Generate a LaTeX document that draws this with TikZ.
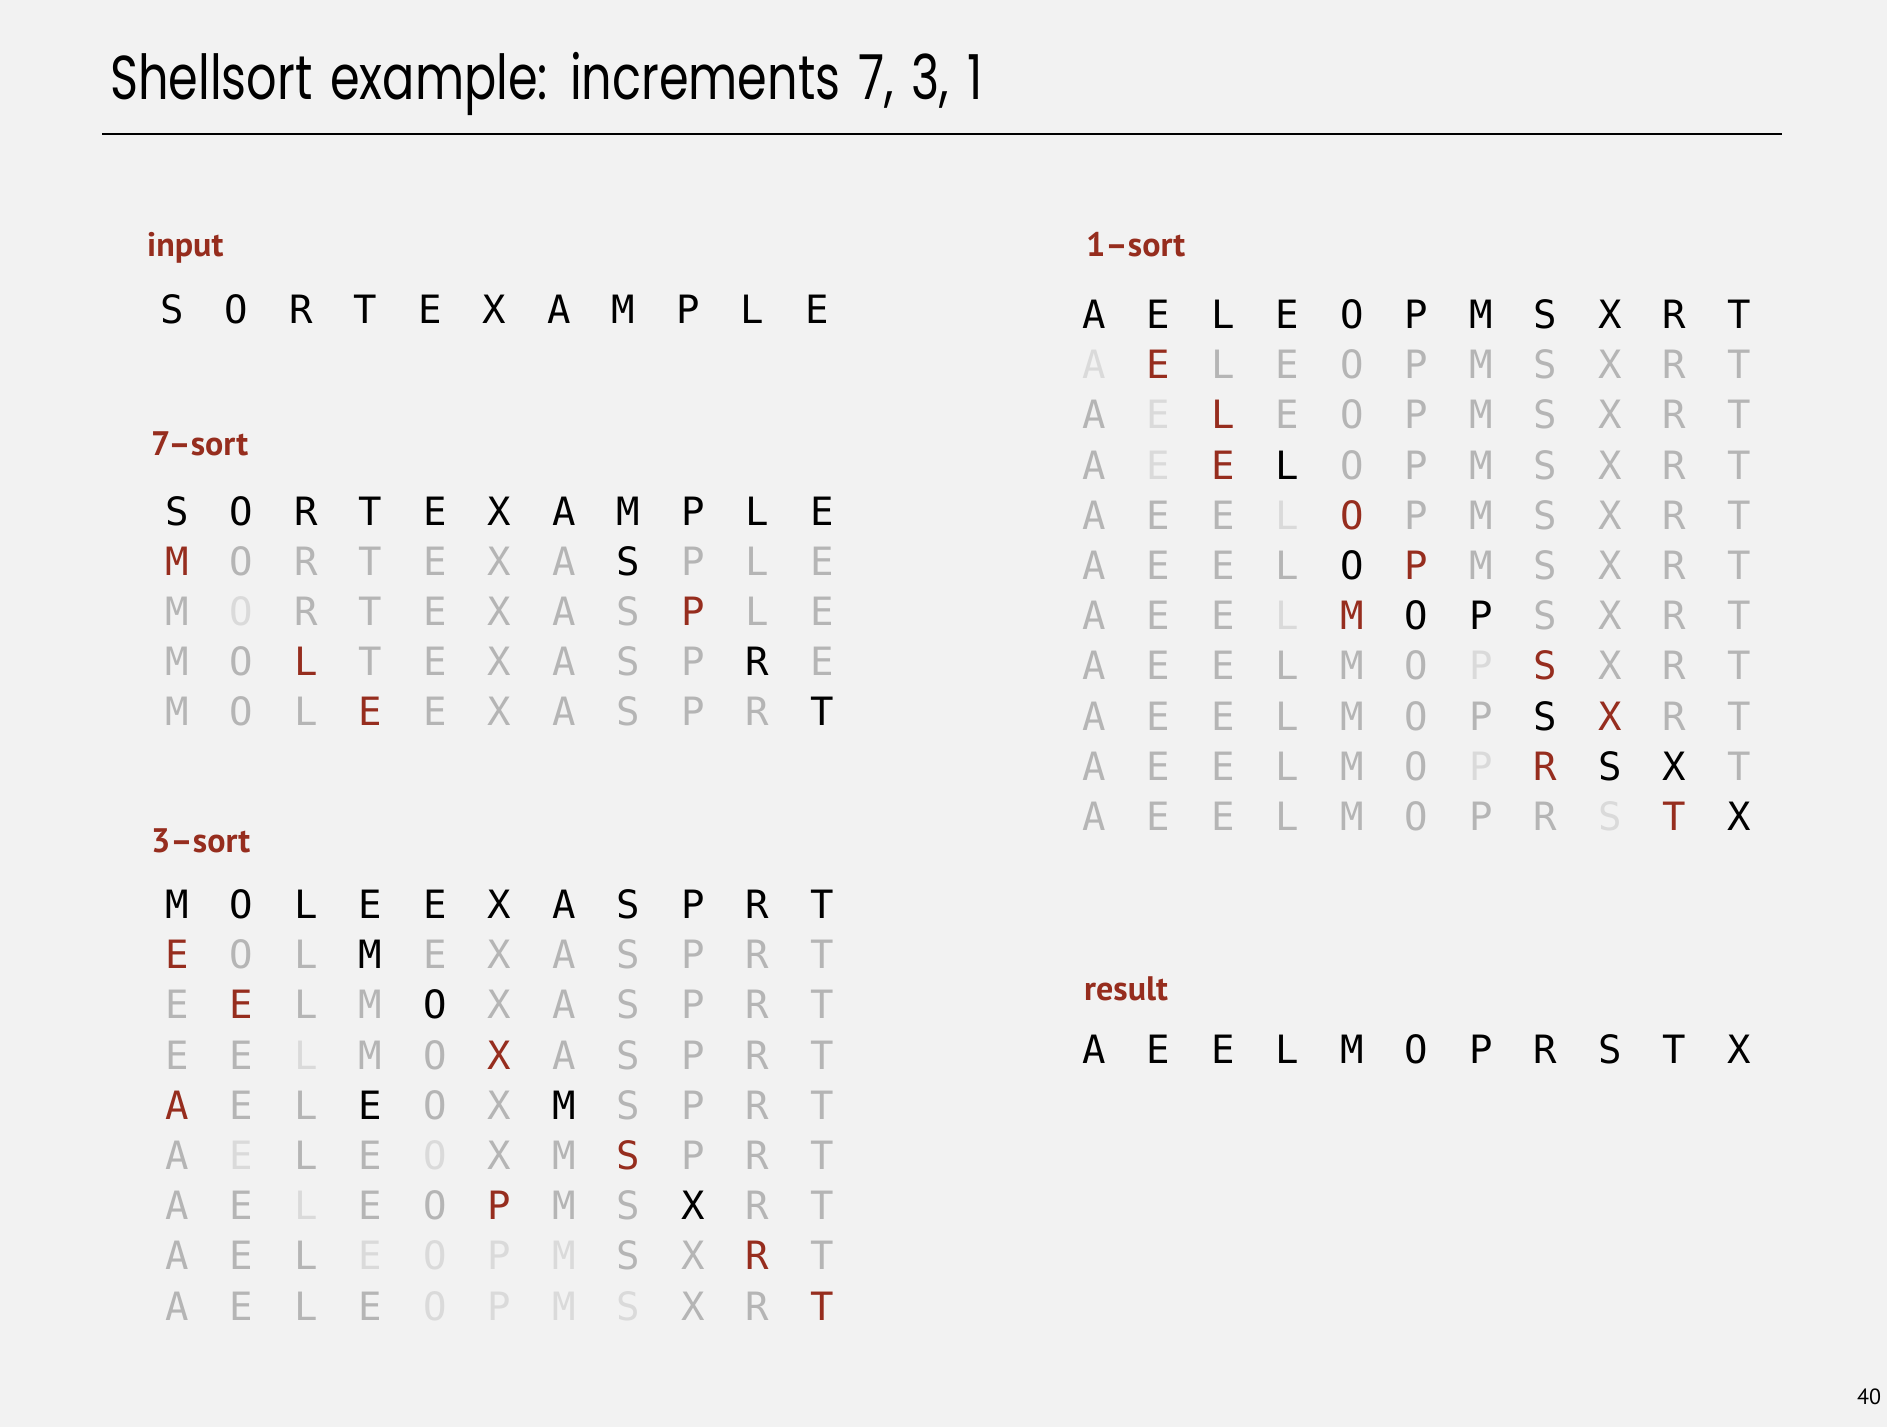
\documentclass[tikz,border=0pt]{standalone}
\usepackage{fontspec}
\usepackage{xcolor}
\usepackage{tikz}

\newfontfamily\titlefont[FakeStretch=0.77, WordSpace=1.4]{Poppins}
\newfontfamily\headfont{PT Sans}
\newfontfamily\keyfont{DejaVu Sans Mono}

\definecolor{slidebg}{HTML}{F2F2F2}
\definecolor{headred}{HTML}{962D1E}
\definecolor{keygray}{HTML}{B5B5B5}
\definecolor{keyfaint}{HTML}{DADADA}

\tikzset{
  key/.style={font=\keyfont\fontsize{39}{39}\selectfont, inner sep=0pt},
  bk/.style={key, text=black},
  rd/.style={key, text=headred},
  gy/.style={key, text=keygray},
  lg/.style={key, text=keyfaint},
  head/.style={font=\headfont\bfseries\fontsize{34}{34}\selectfont, text=headred,
    anchor=base west, inner sep=0pt},
}

% one row of keys: name, left x, y, list of style/letter
\newcommand\keyrow[4]{%
  \foreach \c/\l [count=\i] in {#4}
    \node[\c] (#1-\i) at ({#2+(\i-1)*64.5}, #3) {\l};
}

\begin{document}
\begin{tikzpicture}[x=1pt, y=-1pt]
    % Slide background
    \fill[slidebg] (0,0) rectangle (1887,1427);
    \useasboundingbox (0,0) rectangle (1887,1427);

    % Title and rule
    \node[font=\titlefont\fontsize{62}{62}\selectfont, anchor=base west, inner sep=0pt]
      (title) at (110,99) {Shellsort example: increments 7, 3, 1};
    \coordinate (ruleL) at (102,134);
    \coordinate (ruleR) at (1782,134);
    \draw[line width=2pt] (ruleL) -- (ruleR);

    % Input
    \node[head] (inlab) at (147,256) {input};
    \keyrow{in}{172}{309}{bk/S,bk/O,bk/R,bk/T,bk/E,bk/X,bk/A,bk/M,bk/P,bk/L,bk/E}

    % 7-sort
    \node[head] (sevlab) at (151,455) {7\textendash sort};
    \keyrow{sa}{177}{511}{bk/S,bk/O,bk/R,bk/T,bk/E,bk/X,bk/A,bk/M,bk/P,bk/L,bk/E}
    \keyrow{sb}{177}{561}{rd/M,gy/O,gy/R,gy/T,gy/E,gy/X,gy/A,bk/S,gy/P,gy/L,gy/E}
    \keyrow{sc}{177}{611}{gy/M,lg/O,gy/R,gy/T,gy/E,gy/X,gy/A,gy/S,rd/P,gy/L,gy/E}
    \keyrow{sd}{177}{661}{gy/M,gy/O,rd/L,gy/T,gy/E,gy/X,gy/A,gy/S,gy/P,bk/R,gy/E}
    \keyrow{se}{177}{711}{gy/M,gy/O,gy/L,rd/E,gy/E,gy/X,gy/A,gy/S,gy/P,gy/R,bk/T}

    % 3-sort
    \node[head] (thrlab) at (151,852) {3\textendash sort};
    \keyrow{ta}{177}{904}{bk/M,bk/O,bk/L,bk/E,bk/E,bk/X,bk/A,bk/S,bk/P,bk/R,bk/T}
    \keyrow{tb}{177}{954}{rd/E,gy/O,gy/L,bk/M,gy/E,gy/X,gy/A,gy/S,gy/P,gy/R,gy/T}
    \keyrow{tc}{177}{1004}{gy/E,rd/E,gy/L,gy/M,bk/O,gy/X,gy/A,gy/S,gy/P,gy/R,gy/T}
    \keyrow{td}{177}{1055}{gy/E,gy/E,lg/L,gy/M,gy/O,rd/X,gy/A,gy/S,gy/P,gy/R,gy/T}
    \keyrow{te}{177}{1105}{rd/A,gy/E,gy/L,bk/E,gy/O,gy/X,bk/M,gy/S,gy/P,gy/R,gy/T}
    \keyrow{tf}{177}{1155}{gy/A,lg/E,gy/L,gy/E,lg/O,gy/X,gy/M,rd/S,gy/P,gy/R,gy/T}
    \keyrow{tg}{177}{1205}{gy/A,gy/E,lg/L,gy/E,gy/O,rd/P,gy/M,gy/S,bk/X,gy/R,gy/T}
    \keyrow{th}{177}{1255}{gy/A,gy/E,gy/L,lg/E,lg/O,lg/P,lg/M,gy/S,gy/X,rd/R,gy/T}
    \keyrow{ti}{177}{1306}{gy/A,gy/E,gy/L,gy/E,lg/O,lg/P,lg/M,lg/S,gy/X,gy/R,rd/T}

    % 1-sort
    \node[head] (onelab) at (1086,256) {1\textendash sort};
    \keyrow{oa}{1094}{314}{bk/A,bk/E,bk/L,bk/E,bk/O,bk/P,bk/M,bk/S,bk/X,bk/R,bk/T}
    \keyrow{ob}{1094}{364}{lg/A,rd/E,gy/L,gy/E,gy/O,gy/P,gy/M,gy/S,gy/X,gy/R,gy/T}
    \keyrow{oc}{1094}{414}{gy/A,lg/E,rd/L,gy/E,gy/O,gy/P,gy/M,gy/S,gy/X,gy/R,gy/T}
    \keyrow{od}{1094}{465}{gy/A,lg/E,rd/E,bk/L,gy/O,gy/P,gy/M,gy/S,gy/X,gy/R,gy/T}
    \keyrow{oe}{1094}{515}{gy/A,gy/E,gy/E,lg/L,rd/O,gy/P,gy/M,gy/S,gy/X,gy/R,gy/T}
    \keyrow{of}{1094}{565}{gy/A,gy/E,gy/E,gy/L,bk/O,rd/P,gy/M,gy/S,gy/X,gy/R,gy/T}
    \keyrow{og}{1094}{615}{gy/A,gy/E,gy/E,lg/L,rd/M,bk/O,bk/P,gy/S,gy/X,gy/R,gy/T}
    \keyrow{oh}{1094}{665}{gy/A,gy/E,gy/E,gy/L,gy/M,gy/O,lg/P,rd/S,gy/X,gy/R,gy/T}
    \keyrow{oi}{1094}{716}{gy/A,gy/E,gy/E,gy/L,gy/M,gy/O,gy/P,bk/S,rd/X,gy/R,gy/T}
    \keyrow{oj}{1094}{766}{gy/A,gy/E,gy/E,gy/L,gy/M,gy/O,lg/P,rd/R,bk/S,bk/X,gy/T}
    \keyrow{ok}{1094}{816}{gy/A,gy/E,gy/E,gy/L,gy/M,gy/O,gy/P,gy/R,lg/S,rd/T,bk/X}

    % Result
    \node[head] (reslab) at (1084,1000) {result};
    \keyrow{re}{1094}{1049}{bk/A,bk/E,bk/E,bk/L,bk/M,bk/O,bk/P,bk/R,bk/S,bk/T,bk/X}

    % Page number
    \node[font=\headfont\fontsize{22}{22}\selectfont, anchor=base, inner sep=0pt]
      (pagenum) at (1869,1404) {40};
\end{tikzpicture}
\end{document}
